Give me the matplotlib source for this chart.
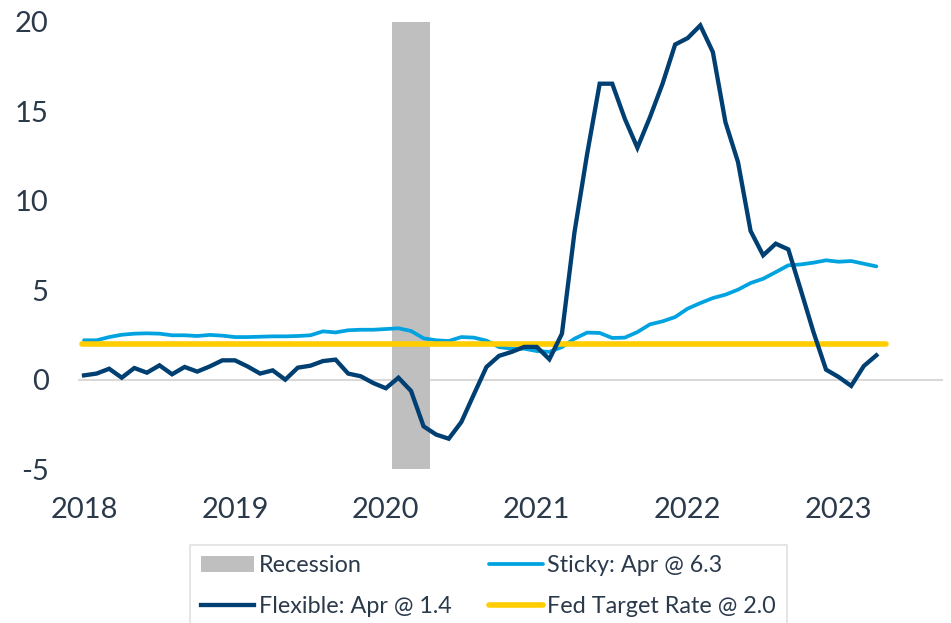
import matplotlib
matplotlib.use("Agg")
import matplotlib.pyplot as plt
import numpy as np

# monthly data, Jan 2018 .. Apr 2023
flexible = [0.24, 0.34, 0.61, 0.11, 0.65, 0.39, 0.80, 0.30, 0.71, 0.45, 0.74, 1.08,
            1.08, 0.74, 0.34, 0.52, 0.00, 0.67, 0.78, 1.04, 1.12, 0.34, 0.19, -0.19,
            -0.48, 0.11, -0.63, -2.61, -3.07, -3.30, -2.37, -0.82, 0.71, 1.33, 1.55, 1.83,
            1.83, 1.14, 2.57, 8.25, 12.6, 16.54, 16.54, 14.58, 12.96, 14.67, 16.54, 18.73,
            19.09, 19.80, 18.31, 14.39, 12.16, 8.31, 6.95, 7.60, 7.28, 4.99, 2.66, 0.56,
            0.15, -0.35, 0.76, 1.36]
sticky = [2.20, 2.20, 2.38, 2.51, 2.57, 2.59, 2.57, 2.48, 2.48, 2.44, 2.50, 2.46,
          2.38, 2.38, 2.40, 2.42, 2.42, 2.44, 2.48, 2.70, 2.64, 2.76, 2.79, 2.79,
          2.83, 2.87, 2.72, 2.31, 2.20, 2.16, 2.38, 2.35, 2.18, 1.82, 1.73, 1.73,
          1.60, 1.55, 1.82, 2.29, 2.63, 2.61, 2.33, 2.35, 2.66, 3.09, 3.26, 3.50,
          3.97, 4.28, 4.56, 4.75, 5.03, 5.40, 5.64, 6.01, 6.39, 6.44, 6.54, 6.67,
          6.59, 6.63, 6.48, 6.33]
fed_target = [2.0] * 65            # Jan 2018 .. May 2023
recession_months = [25, 26, 27]    # Feb..Apr 2020 (months since Jan 2018)
year_labels = ['2018', '2019', '2020', '2021', '2022', '2023']

navy = '#003F72'
light_blue = '#00A3E0'
yellow = '#FFCD00'
gray = '#BFBFBF'
text_color = '#2B3A4B'

plt.rcParams['font.family'] = ['Lato', 'DejaVu Sans']
plt.rcParams['axes.unicode_minus'] = False

fig = plt.figure(figsize=(9.51, 6.23), dpi=100)
ax = fig.add_axes([0.082, 0.247, 0.9096, 0.718])

ax.bar(recession_months, [25] * len(recession_months), bottom=-5, width=1.0,
       color=gray, label='Recession', zorder=1)
ax.axhline(0, color='#D9D9D9', lw=1.5, zorder=0)
ax.plot(np.arange(len(flexible)), flexible, color=navy, lw=3.1,
        solid_joinstyle='miter', label='Flexible: Apr @ 1.4', zorder=3)
ax.plot(np.arange(len(sticky)), sticky, color=light_blue, lw=2.7,
        solid_capstyle='round', label='Sticky: Apr @ 6.3', zorder=2)
ax.plot(np.arange(len(fed_target)) - 0.2, fed_target, color=yellow, lw=4.0,
        solid_capstyle='round', label='Fed Target Rate @ 2.0', zorder=2)

ax.set_xlim(-0.48, 68.3)
ax.set_ylim(-5, 20)
ax.set_yticks([-5, 0, 5, 10, 15, 20])
ax.set_xticks(np.arange(len(year_labels)) * 12)
ax.set_xticklabels(year_labels)
for s in ax.spines.values():
    s.set_visible(False)
ax.tick_params(axis='both', length=0, labelsize=21, colors=text_color)
ax.tick_params(axis='x', pad=20)
ax.tick_params(axis='y', pad=21)

handles, labels = ax.get_legend_handles_labels()
order = [3, 0, 1, 2]   # Recession, Flexible | Sticky, Fed
leg = fig.legend([handles[i] for i in order], [labels[i] for i in order],
                 loc='upper left', bbox_to_anchor=(0.1998, 0.126), ncol=2,
                 fontsize=16.8, frameon=True, fancybox=False, edgecolor='#D9D9D9',
                 handlelength=2.3, handletextpad=0.2, columnspacing=1.6,
                 labelspacing=0.85, borderpad=0.45, borderaxespad=0)
leg.get_frame().set_linewidth(1.2)
for t in leg.get_texts():
    t.set_color(text_color)

fig.savefig('out.png', dpi=100)
